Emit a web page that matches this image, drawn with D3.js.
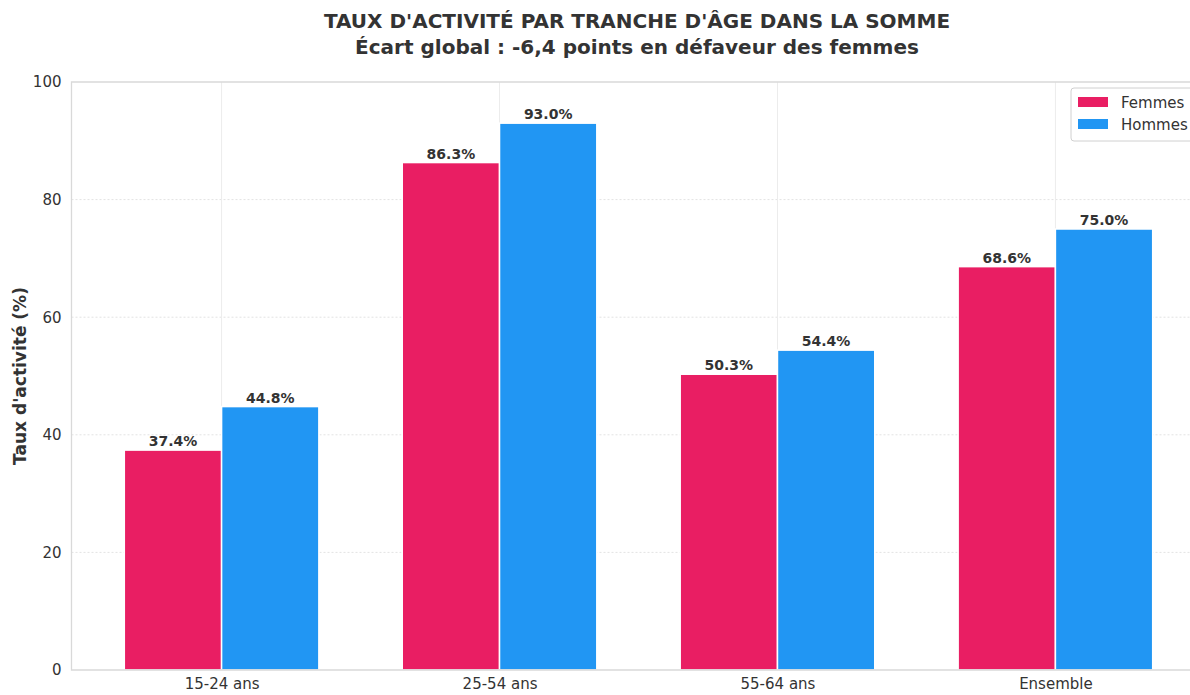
<!DOCTYPE html>
<html>
<head>
<meta charset="utf-8">
<script src="https://cdn.jsdelivr.net/npm/d3@7"></script>
<style>
  body { margin: 0; background: #fff; }
  svg { display: block; font-family: "DejaVu Sans", sans-serif; }
</style>
</head>
<body>
<div id="chart"></div>
<script>
const categories = ["15-24 ans", "25-54 ans", "55-64 ans", "Ensemble"];
const femmes = [37.4, 86.3, 50.3, 68.6];
const hommes = [44.8, 93.0, 54.4, 75.0];
const yTicks = [0, 20, 40, 60, 80, 100];
const seriesNames = ["Femmes", "Hommes"];
const colors = ["#E91E63", "#2196F3"];

const width = 1190, height = 695;
const margin = { top: 82, left: 71.5, bottom: 25 };
const plotRight = 1205.5;
const plotBottom = 670;

const svg = d3.select("#chart").append("svg")
    .attr("width", width)
    .attr("height", height);

// scales
const x = d3.scaleLinear().domain([-0.54, 3.54]).range([margin.left, plotRight]);
const y = d3.scaleLinear().domain([0, 100]).range([plotBottom, margin.top]);
const barW = x(0.35) - x(0);

// grid lines
svg.append("g")
    .selectAll("line")
    .data(yTicks.filter(d => d > 0 && d < 100))
    .enter().append("line")
    .attr("x1", margin.left).attr("x2", plotRight)
    .attr("y1", d => y(d)).attr("y2", d => y(d))
    .attr("stroke", "#e3e3e3")
    .attr("stroke-width", 1)
    .attr("stroke-dasharray", "2,2");

svg.append("g")
    .selectAll("line")
    .data(categories)
    .enter().append("line")
    .attr("x1", (d, i) => x(i)).attr("x2", (d, i) => x(i))
    .attr("y1", margin.top).attr("y2", plotBottom)
    .attr("stroke", "#ececec")
    .attr("stroke-width", 1);

// bars
const series = [femmes, hommes];
series.forEach((vals, s) => {
    svg.append("g")
        .selectAll("rect")
        .data(vals)
        .enter().append("rect")
        .attr("x", (d, i) => x(i) + (s === 0 ? -barW : 0))
        .attr("width", barW)
        .attr("y", d => y(d))
        .attr("height", d => plotBottom - y(d))
        .attr("fill", colors[s])
        .attr("stroke", "#fff")
        .attr("stroke-width", 1.5);

    svg.append("g")
        .selectAll("text")
        .data(vals)
        .enter().append("text")
        .attr("x", (d, i) => x(i) + (s === 0 ? -barW / 2 : barW / 2))
        .attr("y", d => y(d) - 4)
        .attr("text-anchor", "middle")
        .attr("font-size", 14)
        .attr("font-weight", "bold")
        .attr("fill", "#333")
        .text(d => d.toFixed(1) + "%");
});

// spines
svg.append("path")
    .attr("d", `M${plotRight},${margin.top}H${margin.left}V${plotBottom}H${plotRight}`)
    .attr("fill", "none")
    .attr("stroke", "#d9d9d9")
    .attr("stroke-width", 1.3);

// y axis
const yAxis = svg.append("g")
    .attr("transform", `translate(${margin.left},0)`)
    .call(d3.axisLeft(y).tickValues(yTicks).tickSize(0).tickPadding(10));
yAxis.select(".domain").remove();
yAxis.selectAll("text")
    .attr("font-size", 15)
    .attr("font-family", "DejaVu Sans, sans-serif")
    .attr("fill", "#333");

// x axis
const xAxis = svg.append("g")
    .attr("transform", `translate(0,${plotBottom})`)
    .call(d3.axisBottom(x).tickValues(d3.range(categories.length))
        .tickFormat(i => categories[i]).tickSize(0).tickPadding(8));
xAxis.select(".domain").remove();
xAxis.selectAll("text")
    .attr("font-size", 15)
    .attr("font-family", "DejaVu Sans, sans-serif")
    .attr("fill", "#333");

// y label
svg.append("text")
    .attr("transform", `translate(26,${(margin.top + plotBottom) / 2}) rotate(-90)`)
    .attr("text-anchor", "middle")
    .attr("font-size", 17)
    .attr("font-weight", "bold")
    .attr("fill", "#333")
    .text("Taux d'activité (%)");

// title
svg.append("text")
    .attr("x", 637).attr("y", 28)
    .attr("text-anchor", "middle")
    .attr("font-size", 20)
    .attr("font-weight", "bold")
    .attr("fill", "#333")
    .text("TAUX D'ACTIVITÉ PAR TRANCHE D'ÂGE DANS LA SOMME");
svg.append("text")
    .attr("x", 637).attr("y", 54)
    .attr("text-anchor", "middle")
    .attr("font-size", 20)
    .attr("font-weight", "bold")
    .attr("fill", "#333")
    .text("Écart global : -6,4 points en défaveur des femmes");

// legend
const legend = svg.append("g").attr("transform", "translate(1071,88)");
legend.append("rect")
    .attr("width", 140).attr("height", 53)
    .attr("rx", 3)
    .attr("fill", "#fff").attr("fill-opacity", 0.9)
    .attr("stroke", "#d0d0d0");
seriesNames.forEach((name, i) => {
    legend.append("rect")
        .attr("x", 7).attr("y", 9 + i * 22)
        .attr("width", 30).attr("height", 10)
        .attr("fill", colors[i]);
    legend.append("text")
        .attr("x", 50).attr("y", 20 + i * 22)
        .attr("font-size", 15)
        .attr("fill", "#333")
        .text(name);
});
</script>
</body>
</html>
